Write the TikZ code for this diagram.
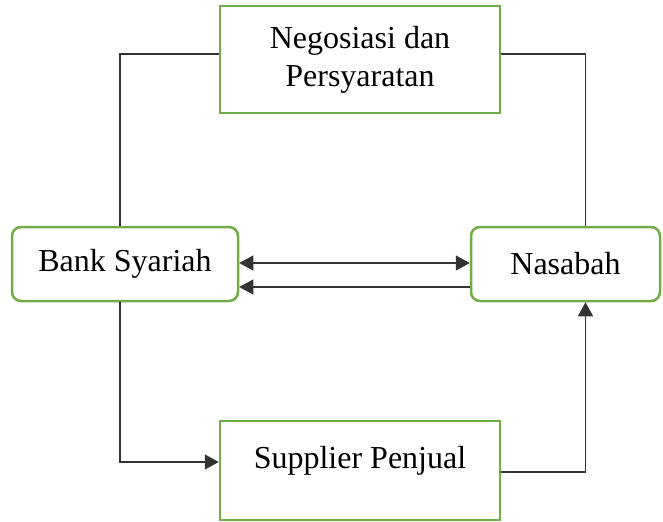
\documentclass[tikz,border=0pt]{standalone}
\usepackage{fontspec}
\setmainfont{Liberation Serif}
\usetikzlibrary{arrows.meta}
\definecolor{boxgreen}{HTML}{70AD47}

\tikzset{
	kotak/.style={draw=boxgreen, line width=1.25pt, fill=white, inner sep=0pt, align=center, font=\fontsize{16}{19}\selectfont},
	kotakbulat/.style={kotak, rounded corners=4.5pt},
	alur/.style={draw=black!80, line width=0.7pt}
}

\begin{document}
\begin{tikzpicture}[x=0.5pt,y=-0.5pt,>={Triangle[length=7pt,width=7.5pt]}]
					\useasboundingbox (0,0) rectangle (663,521);
					%% ========================================================
					\node[kotak, minimum width=140pt, minimum height=53.5pt] (nego) at (360,59.5) {Negosiasi dan\\Persyaratan};
					\node[kotakbulat, minimum width=113pt, minimum height=37pt] (bank) at (125,264) {Bank Syariah};
					\node[kotakbulat, minimum width=94.5pt, minimum height=37pt] (nasabah) at (565.5,264) {Nasabah};
					\node[kotak, minimum width=140pt, minimum height=49.5pt, text height=11pt, text depth=13.5pt] (supp) at (360,470.5) {Supplier Penjual};
					%% ========================================================
					\draw[alur] ([xshift=-2.5pt]bank.north) |- ([yshift=2.75pt]nego.west);
					\draw[alur] ([yshift=2.75pt]nego.east) -| ([xshift=10pt]nasabah.north);

					\draw[alur,<->] ([yshift=0.5pt]bank.east) -- ([yshift=0.5pt]nasabah.west);
					\draw[alur,->] ([yshift=-11.5pt]nasabah.west) -- ([yshift=-11.5pt]bank.east);

					\draw[alur,->] ([xshift=-2.5pt]bank.south) |- ([yshift=4.25pt]supp.west);
					\draw[alur,->] ([yshift=-0.75pt]supp.east) -| ([xshift=10pt]nasabah.south);
					%% ========================================================
				\end{tikzpicture}
\end{document}
